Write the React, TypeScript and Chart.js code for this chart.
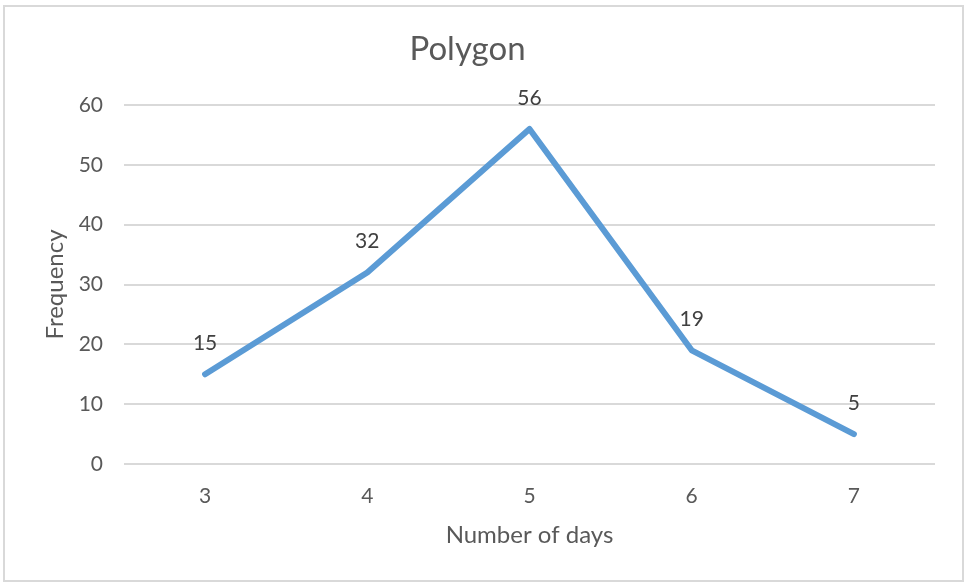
import React, { useEffect, useRef } from "react";
import { Chart, registerables } from "chart.js";

Chart.register(...registerables);

const categories = ["3", "4", "5", "6", "7"];
const frequency = [15, 32, 56, 19, 5];
const yTicks = [0, 10, 20, 30, 40, 50, 60];
const chartTitle = "Polygon";
const xTitle = "Number of days";
const yTitle = "Frequency";

const FONT = "Lato, 'Open Sans', sans-serif";

export default function App() {
  const ref = useRef<HTMLCanvasElement>(null);

  useEffect(() => {
    if (!ref.current) return;
    const labelPlugin = {
      id: "pointValueLabels",
      afterDatasetsDraw(chart: any) {
        const ctx = chart.ctx;
        const meta = chart.getDatasetMeta(0);
        ctx.save();
        ctx.font = `21px ${FONT}`;
        ctx.fillStyle = "#404040";
        ctx.textAlign = "center";
        ctx.textBaseline = "middle";
        meta.data.forEach((pt: any, i: number) => {
          ctx.fillText(String(frequency[i]), pt.x, pt.y - 31);
        });
        ctx.restore();
      },
    };

    const tickFont = { family: FONT, size: 21 };
    const axisTitleFont = { family: FONT, size: 24 };

    const chart = new Chart(ref.current, {
      type: "line",
      data: {
        labels: categories,
        datasets: [
          {
            data: frequency,
            borderColor: "#5B9BD5",
            backgroundColor: "#5B9BD5",
            borderWidth: 6,
            borderCapStyle: "round",
            borderJoinStyle: "round",
            pointRadius: 0,
            tension: 0,
            fill: false,
          },
        ],
      },
      options: {
        responsive: false,
        animation: false,
        layout: { padding: { left: 0, right: 31, top: 0, bottom: 0 } },
        plugins: {
          legend: { display: false },
          tooltip: { enabled: false },
          title: {
            display: true,
            text: chartTitle,
            color: "#595959",
            font: { family: FONT, size: 33, weight: "normal" },
            padding: { top: 30, bottom: 35.4 },
          },
        },
        scales: {
          x: {
            offset: true,
            grid: { display: false, drawTicks: false },
            border: { display: false },
            ticks: { color: "#595959", font: tickFont, padding: 20 },
            title: {
              display: true,
              text: xTitle,
              color: "#595959",
              font: axisTitleFont,
              padding: { top: 0, bottom: 32.6 },
            },
            afterFit: (s: any) => {
              s.height = 118;
            },
          },
          y: {
            min: 0,
            max: 60,
            grid: { color: "#D9D9D9", lineWidth: 2, drawTicks: false },
            border: { display: false },
            ticks: { color: "#595959", font: tickFont, padding: 21 },
            afterBuildTicks: (s: any) => {
              s.ticks = yTicks.map((v) => ({ value: v }));
            },
            title: {
              display: true,
              text: yTitle,
              color: "#595959",
              font: axisTitleFont,
              padding: { top: 40.6, bottom: 0 },
            },
            afterFit: (s: any) => {
              s.width = 124;
            },
          },
        },
      },
      plugins: [labelPlugin],
    } as any);

    return () => chart.destroy();
  }, []);

  return (
    <div
      style={{
        position: "fixed",
        left: 0,
        top: 0,
        width: 966,
        height: 582,
        background: "#ffffff",
      }}
    >
      <canvas
        ref={ref}
        width={966}
        height={582}
        style={{ display: "block", width: 966, height: 582 }}
      />
      <div
        style={{
          position: "absolute",
          left: 3,
          top: 5,
          width: 957,
          height: 573,
          border: "2px solid #D9D9D9",
          pointerEvents: "none",
        }}
      />
    </div>
  );
}
